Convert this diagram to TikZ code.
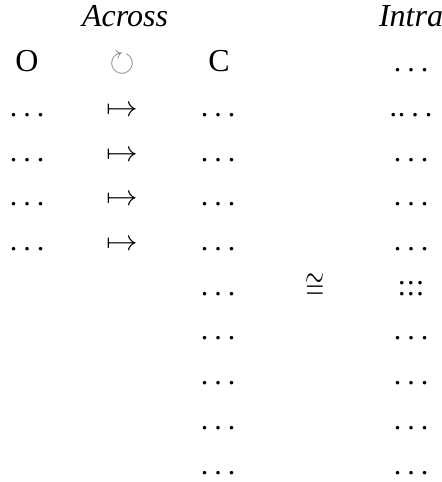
\documentclass[tikz,border=0pt]{standalone}
\usepackage{amsmath, amssymb}
\usepackage{graphicx}
\usepackage{fontspec}
\setmainfont{Liberation Serif}
\usepackage{tikz}
\usetikzlibrary{calc}
\tikzset{>=latex}
\tikzset{every node/.style={inner sep=0pt, anchor=base}}
\tikzset{head/.style={font=\fontsize{16}{19}\selectfont\itshape}}
\tikzset{cell/.style={font=\fontsize{15}{18}\selectfont}}
\tikzset{big/.style={font=\fontsize{16}{19}\selectfont}}
% wide (text) and narrow (math) dots
\newcommand{\tdots}{.\kern3.0pt.\kern3.0pt.}
\newcommand{\mdots}{.\kern0.8pt.\kern0.8pt.}

\begin{document}
\begin{tikzpicture}[x=0.5pt, y=-0.5pt]
  \useasboundingbox (0,0) rectangle (442,482);
  % column heads
  \node[head] (across) at (125, 26) {Across};
  \node[head] (intra) at (411, 26) {Intra};
  % first row
  \node[big] (o) at (27, 71.7) {O};
  \node[big, text=gray] (cyc) at (122, 71.7) {$\circlearrowright$};
  \node[big] (c) at (219, 71.7) {C};
  % left block
  \foreach \k in {1,...,4} {
    \node[cell] (o-\k) at (27, 71.7+44.7*\k) {\tdots};
    \node[cell] (map-\k) at (122, 71.7+44.7*\k) {\scalebox{1.1}[1]{$\mapsto$}};
  }
  \foreach \k in {1,...,9}
    \node[cell] (c-\k) at (218, 71.7+44.7*\k) {\tdots};
  % right column
  \foreach \k in {0,2,3,4,6,7,8,9}
    \node[cell] (intra-\k) at (411, 71.7+44.7*\k) {\tdots};
  \node[cell] (intra-1) at (411, 116.4) {.\kern0.3pt\tdots};
  \node[cell] (intra-5) at (411, 295.2) {\rlap{\raisebox{5.5pt}{\mdots}}\mdots};
  \node[cell] (iso) at (315, 298) {\scalebox{0.85}[1.3]{$\cong$}};
\end{tikzpicture}
\end{document}
